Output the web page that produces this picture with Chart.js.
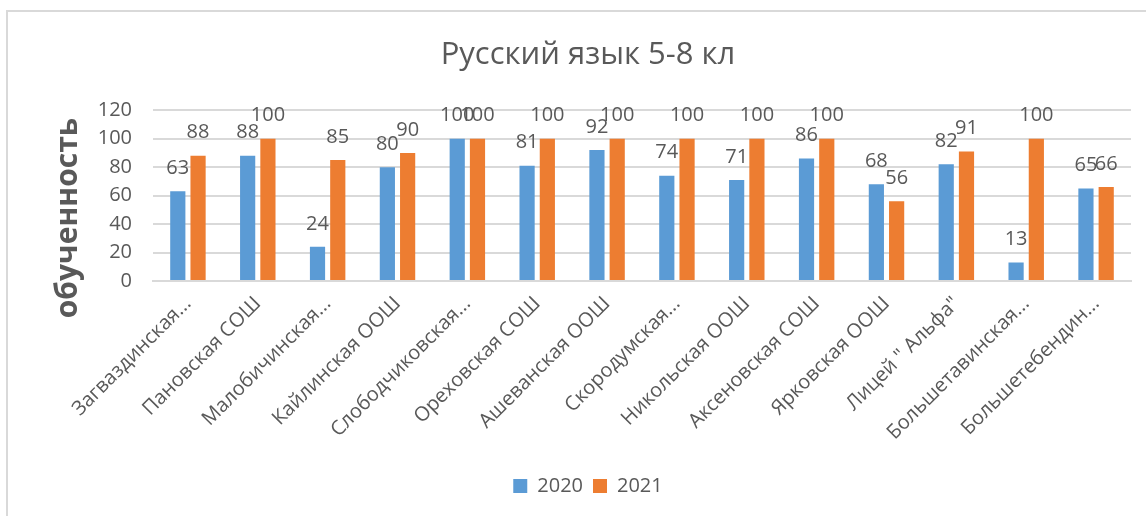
<!DOCTYPE html>
<html lang="ru">
<head>
  <meta charset="UTF-8">
  <title>Русский язык 5-8 кл</title>
  <script src="https://cdn.jsdelivr.net/npm/chart.js"></script>
  <style>
    html, body { margin: 0; padding: 0; background: #fff; overflow: hidden; }
    #wrap { position: relative; width: 1146px; height: 516px; }
    #frame { position: absolute; left: 6px; top: 10px; width: 1200px; height: 600px;
             border: 2px solid #d9d9d9; box-sizing: border-box; }
    canvas { position: absolute; left: 0; top: 0; }
  </style>
</head>
<body>
  <div id="wrap">
    <div id="frame"></div>
    <canvas id="chart" width="1146" height="516"></canvas>
  </div>

  <script>
    // данные
    const schools = [
      'Загваздинская...', 'Пановская СОШ', 'Малобичинская...', 'Кайлинская ООШ',
      'Слободчиковская...', 'Ореховская СОШ', 'Ашеванская ООШ', 'Скородумская...',
      'Никольская ООШ', 'Аксеновская СОШ', 'Ярковская ООШ', 'Лицей " Альфа"',
      'Большетавинская...', 'Большетебендин...'
    ];
    const years = ['2020', '2021'];
    const scores2020 = [63, 88, 24, 80, 100, 81, 92, 74, 71, 86, 68, 82, 13, 65];
    const scores2021 = [88, 100, 85, 90, 100, 100, 100, 100, 100, 100, 56, 91, 100, 66];
    const yTicks = [0, 20, 40, 60, 80, 100, 120];

    const textColor = '#595959';
    const fontFamily = '"Open Sans", "DejaVu Sans", sans-serif';

    // подписи значений над столбцами
    const barLabels = {
      id: 'barLabels',
      afterDatasetsDraw(chart) {
        const ctx = chart.ctx;
        ctx.save();
        ctx.font = '20px ' + fontFamily;
        ctx.fillStyle = textColor;
        ctx.textAlign = 'center';
        ctx.textBaseline = 'middle';
        chart.data.datasets.forEach((ds, i) => {
          chart.getDatasetMeta(i).data.forEach((bar, j) => {
            ctx.fillText(ds.data[j], bar.x, bar.y - 23);
          });
        });
        ctx.restore();
      }
    };

    // подпись оси Y
    const yTitle = {
      id: 'yTitle',
      afterDraw(chart) {
        const ctx = chart.ctx;
        ctx.save();
        ctx.translate(68, 218);
        ctx.rotate(-Math.PI / 2);
        ctx.font = 'bold 30px ' + fontFamily;
        ctx.fillStyle = textColor;
        ctx.textAlign = 'center';
        ctx.textBaseline = 'middle';
        ctx.fillText('обученность', 0, 0);
        ctx.restore();
      }
    };

    new Chart(document.getElementById('chart'), {
      type: 'bar',
      data: {
        labels: schools,
        datasets: [
          { label: years[0], data: scores2020, backgroundColor: '#5B9BD5',
            categoryPercentage: 0.58, barPercentage: 0.75 },
          { label: years[1], data: scores2021, backgroundColor: '#ED7D31',
            categoryPercentage: 0.58, barPercentage: 0.75 }
        ]
      },
      options: {
        responsive: false,
        animation: false,
        layout: { padding: { left: 45, right: 15, top: 11, bottom: 10 } },
        plugins: {
          title: {
            display: true,
            text: 'Русский язык 5-8 кл',
            color: textColor,
            font: { family: fontFamily, size: 31, weight: 'normal' },
            padding: { top: 26, bottom: 36 }
          },
          legend: {
            position: 'bottom',
            labels: {
              color: textColor,
              font: { family: fontFamily, size: 20 },
              boxWidth: 14, boxHeight: 14, padding: 10
            }
          },
          tooltip: { enabled: false }
        },
        scales: {
          x: {
            grid: { display: false },
            border: { color: '#d9d9d9', width: 2 },
            ticks: {
              color: textColor,
              font: { family: fontFamily, size: 20 },
              minRotation: 45, maxRotation: 45, autoSkip: false
            },
            afterFit(s) { s.height = 185; }
          },
          y: {
            min: 0, max: 120,
            afterBuildTicks(s) { s.ticks = yTicks.map(v => ({ value: v })); },
            grid: { color: '#d9d9d9', lineWidth: 2, drawTicks: false },
            border: { display: false },
            ticks: {
              color: textColor,
              font: { family: fontFamily, size: 20 },
              padding: 21
            },
            afterFit(s) { s.width = 108; }
          }
        }
      },
      plugins: [barLabels, yTitle]
    });
  </script>
</body>
</html>
